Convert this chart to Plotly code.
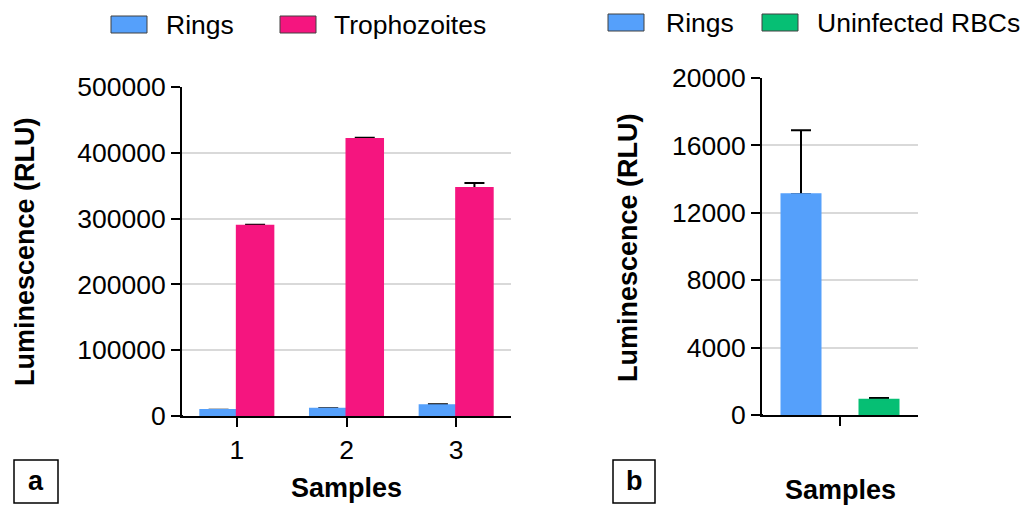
import plotly.graph_objects as go

# ---------------- data ----------------
samples_a = ["1", "2", "3"]
rings_a = [9000, 11000, 16500]
rings_a_err = [600, 600, 1500]
troph_a = [289000, 421000, 346500]
troph_a_err = [1800, 2000, 7500]

samples_b = ["Sample"]
rings_b = [13100]
rings_b_err = [3800]
uninf_b = [900]
uninf_b_err = [110]

yticks_a = [0, 100000, 200000, 300000, 400000, 500000]
yticks_b = [0, 4000, 8000, 12000, 16000, 20000]

# ---------------- style ----------------
W, H = 1030, 505
BLUE = "#55A0FB"
PINK = "#F5157F"
GREEN = "#06BF74"
FONT = "Liberation Sans, Arial, sans-serif"
FS = 26.5
FT = 27


def px(x):
    return x / W


def py(y):
    return 1 - y / H


fig = go.Figure()

err_style = dict(type="data", symmetric=False, color="black", thickness=2, width=10)


def add_pair(x, y, err, color, width, offset, xa, ya, name):
    # transparent carrier of the (upward-only) error bars, drawn first
    fig.add_trace(go.Bar(x=x, y=y, name=name, marker_color="rgba(0,0,0,0)",
                         width=width, offset=offset, hoverinfo="skip",
                         error_y=dict(array=err, arrayminus=[0] * len(y), **err_style),
                         xaxis=xa, yaxis=ya, showlegend=False))
    # visible bars on top (hide the lower error cap at the bar top)
    fig.add_trace(go.Bar(x=x, y=y, name=name, marker_color=color,
                         marker_line=dict(color=color, width=2),
                         width=width, offset=offset,
                         xaxis=xa, yaxis=ya, showlegend=False))


add_pair(samples_a, rings_a, rings_a_err, BLUE, 0.333, -0.333, "x", "y", "Rings")
add_pair(samples_a, troph_a, troph_a_err, PINK, 0.333, 0.0, "x", "y", "Trophozoites")
add_pair(samples_b, rings_b, rings_b_err, BLUE, 0.25, -0.375, "x2", "y2", "Rings")
add_pair(samples_b, uninf_b, uninf_b_err, GREEN, 0.25, 0.125, "x2", "y2", "Uninfected RBCs")

axis_common = dict(showline=True, linecolor="black", linewidth=2, ticks="outside",
                   ticklen=9, tickwidth=2, tickcolor="black", automargin=False,
                   tickfont=dict(family=FONT, size=FS, color="black"), zeroline=False)

fig.update_layout(
    width=W, height=H,
    margin=dict(l=0, r=0, t=0, b=0),
    paper_bgcolor="white", plot_bgcolor="white",
    barmode="overlay",
    font=dict(family=FONT, size=FS, color="black"),
    xaxis=dict(domain=[px(182), px(511)], anchor="y", type="category",
               range=[-0.5, 2.5], showgrid=False, **axis_common),
    yaxis=dict(domain=[py(416), py(87)], anchor="x", range=[0, 500000],
               tickvals=yticks_a, tickformat="d", showgrid=True,
               gridcolor="#D9D9D9", gridwidth=2, **axis_common),
    xaxis2=dict(domain=[px(762), px(918)], anchor="y2", type="category",
                range=[-0.5, 0.5], showgrid=False, showticklabels=False,
                **axis_common),
    yaxis2=dict(domain=[py(415), py(78)], anchor="x2", range=[0, 20000],
                tickvals=yticks_b, tickformat="d", showgrid=True,
                gridcolor="#D9D9D9", gridwidth=2, **axis_common),
)

shapes = []
annots = []

# x-axis line extensions to the left of the y axes (offset axes style)
shapes.append(dict(type="line", xref="paper", yref="y", x0=px(173), x1=px(183),
                   y0=0, y1=0, line=dict(color="black", width=2)))
shapes.append(dict(type="line", xref="paper", yref="y2", x0=px(753), x1=px(763),
                   y0=0, y1=0, line=dict(color="black", width=2)))


def note(text, x, y, size=FS, angle=0, xanchor="center"):
    annots.append(dict(text=text, x=px(x), y=py(y), xref="paper", yref="paper",
                       xanchor=xanchor, yanchor="middle", textangle=angle,
                       showarrow=False, font=dict(family=FONT, size=size, color="black")))


# axis titles
note("<b>Luminescence (RLU)</b>", 25, 252, FT, -90)
note("<b>Samples</b>", 346, 488, FT)
note("<b>Luminescence (RLU)</b>", 628, 248, FT, -90)
note("<b>Samples</b>", 840, 490, FT)

# panel labels
for lab, x0, x1 in [("a", 14, 58), ("b", 613, 655)]:
    shapes.append(dict(type="rect", xref="paper", yref="paper", x0=px(x0), x1=px(x1),
                       y0=py(503), y1=py(460), line=dict(color="black", width=1.5)))
    note(f"<b>{lab}</b>", (x0 + x1) / 2, 481, FT)

# legends (large swatches)
legend_items = [
    ("Rings", BLUE, 111, 16, 167),
    ("Trophozoites", PINK, 280, 16, 335),
    ("Rings", BLUE, 608, 14, 667),
    ("Uninfected RBCs", GREEN, 762, 14, 818),
]
for name, col, sx, sy, tx in legend_items:
    shapes.append(dict(type="rect", xref="paper", yref="paper", x0=px(sx), x1=px(sx + 36),
                       y0=py(sy + 17), y1=py(sy), fillcolor=col,
                       line=dict(color="#404040", width=1)))
    note(name, tx - 3, sy + 9, FS, 0, "left")

fig.update_layout(shapes=shapes, annotations=annots)

fig.write_html("out.html")
